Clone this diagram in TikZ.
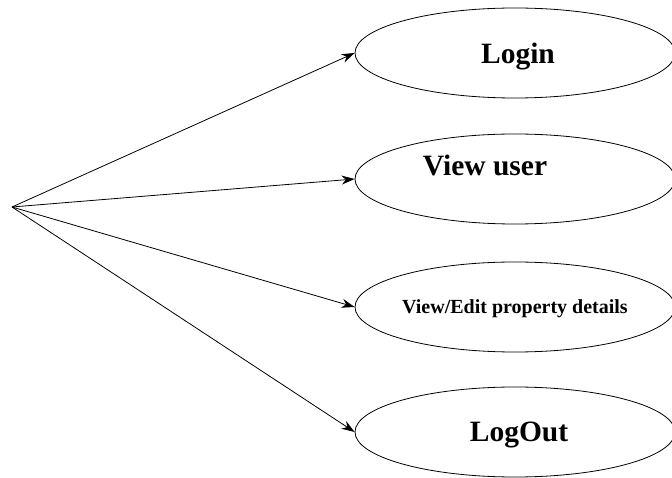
\documentclass[tikz,border=0pt]{standalone}
\usepackage{fontspec}
\setmainfont{Liberation Serif}
\usepackage{tikz}
\usetikzlibrary{arrows.meta,positioning,shapes.geometric}
\tikzset{
  usecase/.style={
    ellipse, draw=black, fill=white, line width=0.8pt,
    minimum width=320pt, minimum height=90pt,
    inner sep=0pt, align=center, text depth=0pt,
    font=\fontsize{#1}{#1}\selectfont\bfseries
  },
  usecase/.default=29.5,
  linkarrow/.style={
    -{Stealth[length=13pt,width=9pt]}, line width=0.8pt, color=black
  },
}

\begin{document}
\begin{tikzpicture}[x=1pt,y=-1pt]
  \useasboundingbox (0,0) rectangle (672,478);
  \clip (0,0) rectangle (672,478);
  \coordinate (actor) at (12,207);
  \node[usecase] (login) at (515,53) {\hspace*{6pt}Login};
  % label sits high and left inside this one
  \node[usecase, text depth=28pt] (view) at (515,179) {View user\hspace*{60pt}};
  \node[usecase=20] (edit) at (515,307) {View/Edit property details};
  \node[usecase] (logout) at (515,432) {\hspace*{8pt}LogOut};
  \draw[linkarrow] (actor) -- (login.west);
  \draw[linkarrow] (actor) -- (view.west);
  \draw[linkarrow] (actor) -- (edit.west);
  \draw[linkarrow] (actor) -- (logout.west);
\end{tikzpicture}
\end{document}
